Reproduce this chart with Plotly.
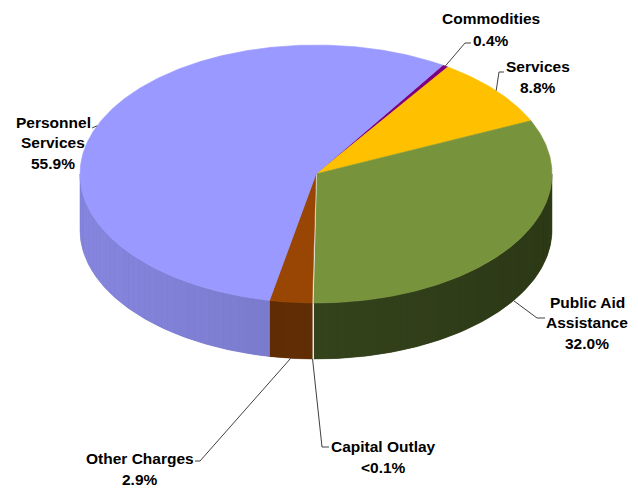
import numpy as np
import plotly.graph_objects as go

# ---------------- data ----------------
categories = ["Commodities", "Services", "Public Aid Assistance",
              "Capital Outlay", "Other Charges", "Personnel Services"]
values = [0.4, 8.8, 32.0, 0.05, 2.9, 55.9]
value_labels = ["0.4%", "8.8%", "32.0%", "<0.1%", "2.9%", "55.9%"]
label_lines = [["Commodities"], ["Services"], ["Public Aid", "Assistance"],
               ["Capital Outlay"], ["Other Charges"], ["Personnel", "Services"]]

# ---------------- style ----------------
top_colors = ["#7F007F", "#FFC000", "#77933C", "#F4F4F4", "#994604", "#9999FF"]
side_left = ["#5A005A", "#B38600", "#3C4E22", "#E0E0E0", "#5C2A04", "#8686E0"]
side_right = ["#5A005A", "#B38600", "#2C3816", "#E0E0E0", "#643005", "#6A6AB2"]

CX, CY, RX, RY, DEPTH, START = 316.0, 174.0, 236.0, 129.0, 56.0, 32.5
PAGE_OFFSET = 8  # browser default body margin

# label layout: (center x, first line y, line step, leader elbow, leader end)
label_pos = [
    (491, 18, 22.0, (465, 43), (471, 43)),
    (538, 66, 21.5, (499, 72), (504, 72)),
    (587, 302, 20.8, (537, 318), (545, 318)),
    (383, 446, 21.0, (322, 447), (329, 447)),
    (140, 458, 21.0, (200, 461), (195, 461)),
    (53, 122, 20.5, (93, 128), (92, 128)),
]


def pt(theta, dy=0.0):
    t = np.radians(theta)
    return CX + RX * np.sin(t), CY - RY * np.cos(t) + dy


def hex2rgb(h):
    h = h.lstrip("#")
    return np.array([int(h[i:i + 2], 16) for i in (0, 2, 4)], dtype=float)


def mix(c1, c2, t):
    c = hex2rgb(c1) * (1 - t) + hex2rgb(c2) * t
    return "rgb(%d,%d,%d)" % tuple(np.round(c).astype(int))


total = float(sum(values))
spans = [v / total * 360.0 for v in values]
starts = START + np.concatenate([[0], np.cumsum(spans)[:-1]])
ends = starts + np.array(spans)

fig = go.Figure()


def wall(s, e, n=6):
    th = np.linspace(s, e, n)
    xt, yt = pt(th)
    xb, yb = pt(th[::-1], DEPTH)
    return (np.concatenate([xt, xb, xt[:1]]), np.concatenate([yt, yb, yt[:1]]))


# ---- side walls (visible between 90 and 270 degrees) ----
for i in range(len(values)):
    a0, a1 = starts[i], ends[i]
    for off in (0.0, 360.0, -360.0):
        s = max(a0 + off, 90.0)
        e = min(a1 + off, 270.0)
        if e <= s:
            continue
        is_cap = categories[i] == "Capital Outlay"
        xs, ys = wall(s, e, max(6, int((e - s) * 2)))
        base = "#F4F4F4" if is_cap else mix(side_left[i], side_right[i], 0.5)
        fig.add_trace(go.Scatter(x=xs, y=ys, mode="lines", fill="toself",
                                 fillcolor=base,
                                 line=dict(color=base, width=2 if is_cap else 0.5),
                                 hoverinfo="skip", showlegend=False))
        if is_cap:
            continue
        nstrip = max(1, int(np.ceil((e - s) / 2.0)))
        edges = np.linspace(s, e, nstrip + 1)
        for k in range(nstrip):
            xs, ys = wall(edges[k], edges[k + 1])
            xm = pt((edges[k] + edges[k + 1]) / 2)[0]
            t = np.clip((xm - (CX - RX)) / (2 * RX), 0, 1)
            col = mix(side_left[i], side_right[i], t)
            fig.add_trace(go.Scatter(x=xs, y=ys, mode="lines", fill="toself",
                                     fillcolor=col, line=dict(width=0),
                                     hoverinfo="skip", showlegend=False))

# ---- top faces ----
for i in range(len(values)):
    th = np.linspace(starts[i], ends[i], max(3, int(spans[i] * 2) + 2))
    x, y = pt(th)
    xs = np.concatenate([[CX], x, [CX]])
    ys = np.concatenate([[CY], y, [CY]])
    lw = 2 if categories[i] == "Capital Outlay" else 0.6
    fig.add_trace(go.Scatter(x=xs, y=ys, mode="lines", fill="toself",
                             fillcolor=top_colors[i],
                             line=dict(color=top_colors[i], width=lw),
                             hoverinfo="skip", showlegend=False,
                             name=categories[i]))

# ---- leader lines and labels ----
annotations = []
for i in range(len(values)):
    mid = (starts[i] + ends[i]) / 2.0
    m = mid % 360.0
    if 90.0 <= m <= 270.0:
        sx, sy = pt(mid, DEPTH)
    else:
        sx, sy = pt(mid)
    lx, ly, step, elbow, end = label_pos[i]
    fig.add_trace(go.Scatter(x=[sx, elbow[0], end[0]], y=[sy, elbow[1], end[1]],
                             mode="lines", line=dict(color="#404040", width=1),
                             hoverinfo="skip", showlegend=False))
    lines = label_lines[i] + [value_labels[i]]
    for j, txt in enumerate(lines):
        annotations.append(dict(x=lx, y=ly + j * step, xref="x", yref="y",
                                text="<b>%s</b>" % txt, showarrow=False,
                                xanchor="center", yanchor="middle",
                                font=dict(family="Arial, Liberation Sans, sans-serif",
                                          size=15.5, color="#000000")))

fig.update_layout(
    width=638, height=489,
    margin=dict(l=0, r=0, t=0, b=0),
    paper_bgcolor="white", plot_bgcolor="white",
    xaxis=dict(range=[PAGE_OFFSET, 638 + PAGE_OFFSET], visible=False, fixedrange=True),
    yaxis=dict(range=[489 + PAGE_OFFSET, PAGE_OFFSET], visible=False, fixedrange=True),
    annotations=annotations,
    showlegend=False,
)

fig.write_html("out.html")
